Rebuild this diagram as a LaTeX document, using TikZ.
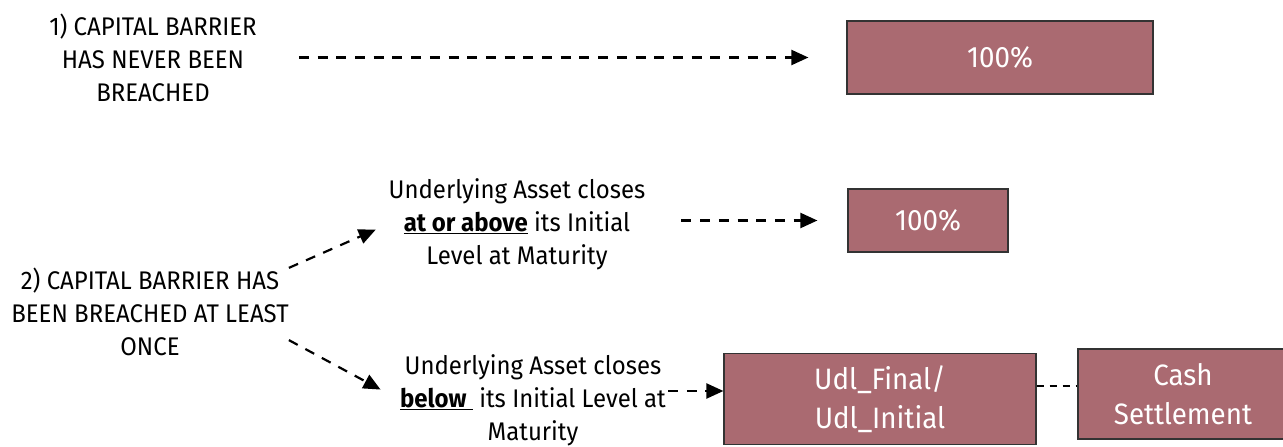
\documentclass[tikz,border=0pt]{standalone}
\usepackage{fontspec}
\setmainfont{Fira Sans}[FakeStretch=0.94]
\usetikzlibrary{arrows.meta}
\definecolor{payoff}{RGB}{170,106,113}
\tikzset{
  case/.style={align=center, font=\fontsize{25.5}{33}\selectfont, inner sep=0pt},
  payout/.style={draw=black!80, line width=1.2pt, fill=payoff, text=white,
    align=center, font=\fontsize{29.5}{39}\selectfont, inner sep=0pt},
  flow/.style={line width=2.2pt, dash pattern=on 10pt off 8.7pt,
    -{Triangle[length=17pt,width=15pt]}},
}

\begin{document}
\begin{tikzpicture}[x=1pt,y=1pt]
  \useasboundingbox (0,0) rectangle (1283,-447);
  % case 1
  \node[case] (barrier1) at (153,-57.5) {1) CAPITAL BARRIER\\HAS NEVER BEEN\\BREACHED};
  \node[payout, minimum width=306pt, minimum height=73pt] (full1) at (1000,-57.5) {100\%};
  % case 2
  \node[case] (barrier2) at (150,-312) {2) CAPITAL BARRIER HAS\\BEEN BREACHED AT LEAST\\ONCE};
  % case 2, above
  \node[case] (above) at (517,-224) {Underlying Asset closes\\\underline{\textbf{at or above}} its Initial\\Level at Maturity};
  \node[payout, minimum width=160pt, minimum height=63pt] (full2) at (928,-220.5) {100\%};
  % case 2, below
  \node[case] (below) at (533,-400) {Underlying Asset closes\\\underline{\textbf{below}\ } its Initial Level at\\Maturity};
  \node[payout, minimum width=312pt, minimum height=91pt] (ratio) at (880,-399) {Udl\_Final/\\Udl\_Initial};
  \node[payout, minimum width=210pt, minimum height=90pt] (cash) at (1183,-394) {Cash\\Settlement};


  % case 1
  \draw[flow, shorten <=42pt, shorten >=38pt] (barrier1.east |- full1.west) to (full1.west);

  % case 2
  \draw[flow, shorten >=14pt] (barrier2.north east) to (above.west);
  \draw[flow, shorten >=22pt] ([yshift=16pt]barrier2.south east) to (below.west);

  % payouts
  \draw[flow, shorten <=36pt, shorten >=30pt] (above.east |- full2.west) to (full2.west);
  \draw[flow, shorten <=2pt] ([yshift=8pt]ratio.west -| below.east) to ([yshift=8pt]ratio.west);
  \draw[line width=2.2pt, dash pattern=on 7pt off 6pt] ([yshift=13pt]ratio.east) to ([yshift=8pt]cash.west);
\end{tikzpicture}
\end{document}
